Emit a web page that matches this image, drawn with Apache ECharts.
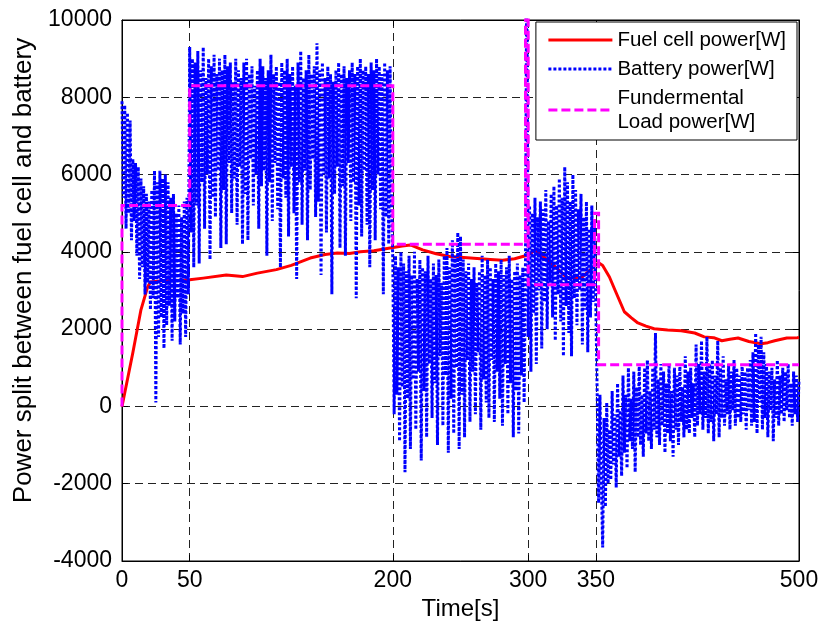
<!DOCTYPE html>
<html><head><meta charset="utf-8">
<script src="https://cdn.jsdelivr.net/npm/echarts@6/dist/echarts.min.js"></script>
<style>html,body{margin:0;padding:0;background:#fff}#c{width:825px;height:628px}</style>
</head><body><div id="c"></div>
<script>
// ---- axis ticks ----
const xTicks = [0, 50, 200, 300, 350, 500];
const xMin = 0, xMax = 500;
const yMin = -4000, yMax = 10000, yStep = 2000;

// ---- fuel cell power [W] ----
const fuelT = [0, 8, 14, 19, 21, 30, 40, 50, 60, 77, 89, 100, 114, 125, 139, 150, 159, 168, 176, 186, 198, 207, 213, 222, 232, 242, 255, 272, 281, 290, 296, 300, 305, 317, 329, 340, 352, 355, 360, 364, 371, 376, 381, 387, 393, 403, 413, 423, 430, 437, 443, 449, 455, 463, 472, 477, 482, 491, 499, 500];
const fuelV = [0, 1390, 2500, 3100, 3220, 3250, 3260, 3280, 3320, 3400, 3360, 3450, 3540, 3650, 3840, 3930, 3970, 3960, 4000, 4030, 4100, 4150, 4180, 4050, 3950, 3880, 3850, 3800, 3780, 3820, 3880, 3920, 4050, 3710, 3320, 3350, 3720, 3650, 3350, 3020, 2450, 2300, 2160, 2080, 2010, 1980, 1960, 1900, 1800, 1780, 1700, 1740, 1770, 1680, 1620, 1650, 1700, 1770, 1780, 1790];

// ---- fundamental load power [W] (step profile) ----
const loadT = [0, 0, 50, 50, 200, 200, 298, 298, 300, 300, 349, 349, 352, 352, 500];
const loadV = [0, 5200, 5200, 8300, 8300, 4200, 4200, 13000, 13000, 3150, 3150, 5000, 5000, 1080, 1080];

// ---- battery power [W], one sample per second from t = 0 ----
const batteryT0 = 0, batteryDt = 1;
const batteryV = [
 7900,5400,7800,4600,7600,5000,7400,4300,6400,4800,
 6300,3900,6200,3300,5900,3600,5700,2900,5500,3200,
 5300,2500,5600,2800,6100,100,5800,1800,6100,2300,
 5900,1500,6000,2100,5800,2600,5400,1700,5500,2200,
 5000,2800,5200,1600,4900,2400,5300,1800,5400,2900,
 9300,4500,9000,3600,8900,5200,9200,3700,8700,5800,
 9300,4600,8500,6000,9000,3800,8800,5400,9100,4900,
 8600,6100,9000,4100,8700,5600,9100,4200,8800,6300,
 8900,5000,8400,5900,9000,4700,8700,6200,8500,4200,
 8900,5500,9000,4300,8600,6400,8800,5200,8300,6000,
 8700,4600,9000,5700,8800,6100,8500,3900,8700,5800,
 9100,4800,8600,6300,8800,5100,8400,3600,8900,5900,
 8700,5400,9000,4400,8600,6200,8800,5000,8300,3300,
 8900,5800,9200,4700,8500,6100,8700,4300,9100,5600,
 8600,6400,8800,4900,9400,5300,8700,3400,8900,6000,
 8500,4500,8800,5900,8600,2900,8400,5500,8700,6200,
 8900,4100,8600,5700,8800,3900,8500,6300,8700,4800,
 8900,5800,8600,2800,8800,5200,9000,4400,8700,6100,
 8800,4700,8600,3600,8900,5600,8700,4300,9000,6000,
 8800,5100,8600,2900,8900,4900,8700,4200,8800,5300,
 3800,-200,3900,300,3600,-900,4000,500,3700,-1700,
 3500,200,3900,-1100,3400,700,4000,-600,3300,900,
 3800,-1400,3600,400,3500,-800,3900,1100,3300,-300,
 3700,600,3400,-1000,3800,1300,3200,-500,3900,800,
 4100,-1200,3600,200,4300,-700,3900,1000,4500,-1100,
 4400,300,3800,-800,3500,1200,3700,-400,3300,900,
 3600,-200,3200,1400,3500,-600,3900,700,3400,100,
 3800,-300,3600,1200,3300,-400,3700,900,3500,200,
 3800,-500,3400,1100,3600,-200,3900,600,3300,-800,
 3500,400,3700,-700,3400,800,3600,100,3800,12000,
 1800,5200,900,5000,2400,5400,1100,4900,3000,5300,
 1500,5100,2700,5600,2000,4800,3200,5500,2300,5700,
 1700,5200,2900,5900,2200,5400,1300,6200,2600,5800,
 1900,5300,1300,6000,2800,5600,2100,5100,3000,5500,
 1600,4900,2500,5300,1400,4600,2300,5200,2700,4800,
 4800,200,-2500,300,-1800,-3650,-300,-2600,100,-2000,
 -600,-1900,400,-1500,-200,-2100,600,-1300,-100,-1800,
 800,-1200,300,-1600,1000,-900,200,-1100,900,-1700,
 500,-800,1100,-1000,300,-1300,1000,-700,1200,-900,
 400,-1100,1000,-600,1900,-800,700,-1000,1100,-500,
 900,-1200,600,-700,1100,-900,400,-1300,1000,-600,
 800,-1000,1100,-400,500,-800,1300,-600,900,-700,
 1000,-300,600,-800,1600,-500,1100,-200,1700,-600,
 900,-300,1800,-700,1100,-400,1200,-900,800,-200,
 1700,-800,1000,-300,1300,-500,700,-200,1100,-600,
 900,-100,1200,-500,1000,-300,800,-400,1100,-200,
 900,-600,1000,-100,1200,-500,1400,-400,1900,-700,
 1600,100,1800,-600,1400,-300,1100,-800,900,-100,
 1000,-900,700,-300,1200,-500,800,-200,1000,-400,
 900,-100,1100,-300,600,-500,900,-200,800,-400,
 700
];

const seriesNames = ['Fuel cell power[W]', 'Battery power[W]', 'Fundermental\nLoad power[W]'];
const FONT = 'Arial, "Liberation Sans", Helvetica, sans-serif';

const fuelData = fuelT.map((t, i) => [t, fuelV[i]]);
const loadData = loadT.map((t, i) => [t, loadV[i]]);
const batteryData = batteryV.map((v, i) => [batteryT0 + i * batteryDt, v]);

const chart = echarts.init(document.getElementById('c'), null, {renderer: 'canvas'});
const gridLine = {show: true, lineStyle: {color: '#222', width: 1, type: [8, 5]}};
const tick = {show: true, inside: true, length: 6, lineStyle: {color: '#000', width: 1}};
chart.setOption({
  animation: false,
  backgroundColor: '#fff',
  textStyle: {fontFamily: FONT},
  grid: {left: 122, right: 26, top: 20, bottom: 67, show: true, borderColor: '#000', borderWidth: 1, backgroundColor: 'transparent'},
  legend: {
    orient: 'vertical', right: 28, top: 22,
    padding: [6, 11, 6, 11], itemGap: 5, itemWidth: 64, itemHeight: 14,
    backgroundColor: '#fff', borderColor: '#000', borderWidth: 1, borderRadius: 0,
    textStyle: {fontSize: 20.5, color: '#000', lineHeight: 24, fontFamily: FONT},
    itemStyle: {opacity: 0},
    lineStyle: {width: 3},
    data: seriesNames
  },
  xAxis: [{
    type: 'value', min: xMin, max: xMax, position: 'bottom',
    axisLine: {show: true, onZero: false, lineStyle: {color: '#000', width: 1}},
    axisTick: Object.assign({customValues: xTicks}, tick),
    axisLabel: {customValues: xTicks, fontSize: 23, color: '#000', margin: 8, fontFamily: FONT},
    splitLine: gridLine,
    name: 'Time[s]', nameLocation: 'middle', nameGap: 34,
    nameTextStyle: {fontSize: 24, color: '#000', fontFamily: FONT}
  }, {
    type: 'value', min: xMin, max: xMax, position: 'top',
    axisLine: {show: true, onZero: false, lineStyle: {color: '#000'}},
    axisTick: Object.assign({customValues: xTicks}, tick),
    axisLabel: {show: false, customValues: xTicks},
    splitLine: {show: false}
  }],
  yAxis: [{
    type: 'value', min: yMin, max: yMax, interval: yStep, position: 'left',
    axisLine: {show: true, onZero: false, lineStyle: {color: '#000', width: 1}},
    axisTick: tick,
    axisLabel: {fontSize: 23, color: '#000', margin: 10, fontFamily: FONT, formatter: v => String(v)},
    splitLine: gridLine,
    name: 'Power split between fuel cell and battery', nameLocation: 'middle', nameGap: 84,
    nameTextStyle: {fontSize: 26, color: '#000', fontFamily: FONT, padding: [0, 0, 0, 40]}
  }, {
    type: 'value', min: yMin, max: yMax, interval: yStep, position: 'right',
    axisLine: {show: true, onZero: false, lineStyle: {color: '#000'}},
    axisTick: tick, axisLabel: {show: false}, splitLine: {show: false}
  }],
  series: [{
    name: seriesNames[0], type: 'line', data: fuelData, xAxisIndex: 0, yAxisIndex: 0,
    symbol: 'none', showSymbol: false, clip: true,
    lineStyle: {color: '#ff0000', width: 3, join: 'round'}, itemStyle: {color: '#ff0000'}
  }, {
    name: seriesNames[1], type: 'line', data: batteryData, xAxisIndex: 0, yAxisIndex: 0,
    symbol: 'none', showSymbol: false, clip: true, sampling: null,
    lineStyle: {color: '#0000ff', width: 3, type: [3, 2], join: 'bevel'}, itemStyle: {color: '#0000ff'}
  }, {
    name: seriesNames[2], type: 'line', data: loadData, xAxisIndex: 0, yAxisIndex: 0,
    symbol: 'none', showSymbol: false, clip: true,
    lineStyle: {color: '#ff00ff', width: 3, type: [9, 4], join: 'miter'}, itemStyle: {color: '#ff00ff'}
  }]
});
</script>
</body></html>
